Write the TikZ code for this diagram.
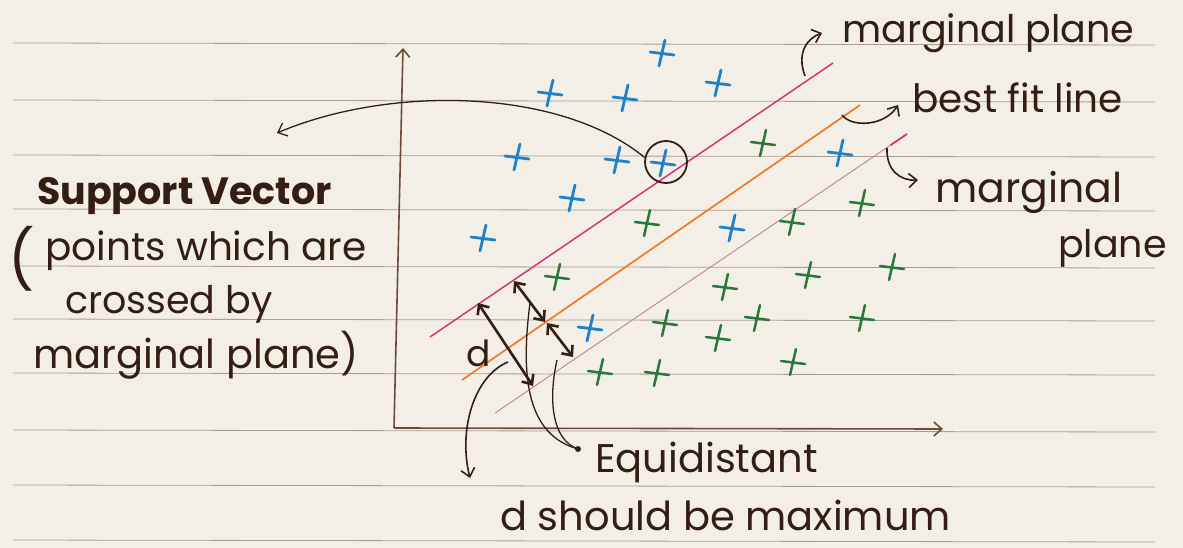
\documentclass[tikz,border=0pt]{standalone}
\usepackage{fontspec}
\setmainfont{Poppins}
\usepackage{tikz}
\usepackage{xcolor}
\usetikzlibrary{arrows.meta,calc}

\definecolor{paper}{RGB}{243,239,231}
\definecolor{rule}{RGB}{165,157,148}
\definecolor{ink}{RGB}{52,30,20}
\definecolor{axisink}{RGB}{105,75,58}
\definecolor{upperplane}{RGB}{214,52,120}
\definecolor{fitline}{RGB}{240,120,40}
\definecolor{lowerplane}{RGB}{190,130,150}
\definecolor{bluex}{RGB}{30,130,200}
\definecolor{greenx}{RGB}{40,120,60}

\newcommand{\handsize}[1]{\fontsize{#1}{#1}\selectfont}

\begin{document}
\begin{tikzpicture}[x=1pt, y=-1pt,
  hand/.style={font=\handsize{39}, text=ink, anchor=base west, inner sep=0pt},
  barb/.style={-{Straight Barb[length=8pt,width=14pt]}},
  pointer/.style={draw=ink, line width=1.6pt, barb},
  dist/.style={draw=ink, line width=2.6pt, {Straight Barb[length=8pt,width=14pt]}-{Straight Barb[length=8pt,width=14pt]}},
  bluemark/.style={draw=bluex, line width=2.8pt, line cap=round},
  greenmark/.style={draw=greenx, line width=2.5pt, line cap=round}]

  % Paper
  \fill[paper] (0,0) rectangle (1183,548);
  \useasboundingbox (0,0) rectangle (1183,548);
  \foreach \ry in {43,100,155,209,266,319,373,430,485,540}
    \draw[rule, line width=0.8pt] (13,\ry) -- (1155,\ry+2);

  % Axes
  \coordinate (origin) at (394,428);
  \coordinate (ytop) at (403,48);
  \coordinate (xend) at (943,429);
  \draw[axisink, line width=1.6pt, barb] (origin) -- (ytop);
  \draw[axisink, line width=1.6pt, barb] (origin) -- (xend);

  % Planes
  \coordinate (up-a) at (430,337);  \coordinate (up-b) at (833,63);
  \coordinate (fit-a) at (462,380); \coordinate (fit-b) at (860,105);
  \coordinate (lo-a) at (495,413);  \coordinate (lo-b) at (907,134);
  \draw[upperplane, line width=1.5pt] (up-a) -- (up-b);
  \draw[fitline, line width=1.7pt] (fit-a) -- (fit-b);
  \draw[lowerplane, line width=0.9pt] (lo-a) -- (lo-b);
  \draw[upperplane, line width=1.8pt] ($(lo-b)!0.04!(lo-a)$) -- (lo-b);

  % Points
  \foreach \px/\py in {662/53,718/83,550/93,625/98,517/157,617/160,663/163,
                       572/198,483/238,590/328,732/228,840/153}
    \draw[bluemark, shift={(\px,\py)}] (-12,-1) -- (12,2) (3,-13) -- (-3,13);
  \foreach \px/\py in {763/143,862/203,792/222,647/223,557/277,892/267,725/287,808/275,
                       757/318,665/323,862/318,718/338,600/372,657/373,793/362}
    \draw[greenmark, shift={(\px,\py)}] (-12,-1) -- (12,2) (3,-13) -- (-3,13);

  % Support vector
  \node[draw=ink, circle, line width=1.8pt, minimum size=42pt, inner sep=0pt] (sv) at (666,162) {};
  \coordinate (sv-end) at (277,133);
  \draw[pointer, line width=1.3pt] (sv.168) .. controls (560,88) and (390,85) .. (sv-end);

  % Labels
  \node[hand, font=\handsize{38}\bfseries] (sv-title) at (37,205) {Support Vector};
  \node[hand, font=\handsize{58}] (paren) at (8,280) {(};
  \node[hand] (sv-l1) at (45,260) {points which are};
  \node[hand, font=\handsize{38}] (sv-l2) at (65,313) {crossed by};
  \node[hand, font=\handsize{40}] (sv-l3) at (33,368) {marginal plane)};
  \node[hand, font=\handsize{38}] (top-plane) at (842,43) {marginal plane};
  \node[hand, font=\handsize{39}] (fit) at (912,113) {best fit line};
  \node[hand, font=\handsize{41}] (low-plane) at (935,203) {marginal};
  \node[hand, font=\handsize{38}] (low-plane2) at (1058,257) {plane};
  \node[hand, font=\handsize{40}] (equi) at (595,472) {Equidistant};
  \node[hand, font=\handsize{40}] (dmax) at (500,530) {d should be maximum};
  \node[hand, font=\handsize{36}] (dlabel) at (466,366) {d};

  % Pointers to labels
  \coordinate (top-tip) at (822,33);
  \coordinate (fit-tip) at (898,105);
  \coordinate (low-tip) at (918,180);
  \draw[pointer] (805,76) .. controls (796,52) and (808,38) .. (top-tip);
  \draw[pointer] (842,115) .. controls (852,128) and (885,126) .. (fit-tip);
  \draw[pointer] (887,148) .. controls (886,170) and (900,181) .. (low-tip);

  % Distances
  \coordinate (d1a) at (478,303); \coordinate (d1b) at (533,386);
  \coordinate (d2a) at (514,281); \coordinate (d2b) at (545,322);
  \coordinate (d3a) at (547,323); \coordinate (d3b) at (573,357);
  \draw[dist] (d1a) -- (d1b);
  \draw[dist] (d2a) -- (d2b);
  \draw[dist] (d3a) -- (d3b);

  % Equidistant and d pointers
  \coordinate (dot) at (578,449);
  \fill[ink] (dot) circle (3pt);
  \draw[ink, line width=1.3pt] (530,303) .. controls (520,380) and (528,435) .. (dot);
  \draw[ink, line width=1.3pt] (557,360) .. controls (548,400) and (552,440) .. (dot);
  \coordinate (dmax-tip) at (470,478);
  \draw[pointer] (508,362) .. controls (474,376) and (458,430) .. (dmax-tip);
\end{tikzpicture}
\end{document}
